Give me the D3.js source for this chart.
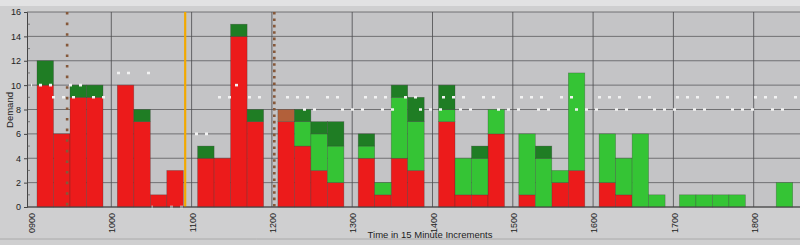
<!DOCTYPE html>
<html lang="en">
<head>
    <meta charset="UTF-8">
    <title>Demand in 15 Minute Increments</title>
    <script src="https://d3js.org/d3.v7.min.js"></script>
    <style>
        body { margin: 0; background: #cfcfd0; }
        svg { display: block; }
        .axis text { font-family: "Liberation Sans", Arial, sans-serif; font-size: 9px; fill: #222; }
        .title { font-family: "Liberation Sans", Arial, sans-serif; font-size: 9.5px; fill: #222; }
    </style>
</head>
<body>
<svg></svg>
<script>
    // hours shown on the axis
    var hours = [9, 10, 11, 12, 13, 14, 15, 16, 17, 18];
    var hourLabels = ["0900", "1000", "1100", "1200", "1300", "1400", "1500", "1600", "1700", "1800"];
    var yTicks = [0, 2, 4, 6, 8, 10, 12, 14, 16];

    // one value per 15 minute slot, 4 per hour, 0900 to 1845
    var redVals = [
        10, 6, 9, 9,
        10, 7, 1, 3,
        4, 4, 14, 7,
        7, 5, 3, 2,
        4, 1, 4, 3,
        7, 1, 1, 6,
        1, 0, 2, 3,
        2, 1, 0, 0,
        0, 0, 0, 0,
        0, 0, 0, 0
    ];
    var brownVals = [
        0, 0, 0, 0,
        0, 0, 0, 0,
        0, 0, 0, 0,
        1, 0, 0, 0,
        0, 0, 0, 0,
        0, 0, 0, 0,
        0, 0, 0, 0,
        0, 0, 0, 0,
        0, 0, 0, 0,
        0, 0, 0, 0
    ];
    var lightGreenVals = [
        0, 0, 0, 0,
        0, 0, 0, 0,
        0, 0, 0, 0,
        0, 2, 3, 3,
        1, 1, 5, 4,
        1, 3, 3, 2,
        5, 4, 1, 8,
        4, 3, 6, 1,
        1, 1, 1, 1,
        0, 2, 0, 0
    ];
    var darkGreenVals = [
        2, 0, 1, 1,
        0, 1, 0, 0,
        1, 0, 1, 1,
        0, 1, 1, 2,
        1, 0, 1, 2,
        2, 0, 1, 0,
        0, 1, 0, 0,
        0, 0, 0, 0,
        0, 0, 0, 0,
        0, 0, 0, 0
    ];

    // dotted target levels per 15 minute slot (null = not drawn)
    var targetA = [
        10, 10, 10, null,
        11, 11, null, null,
        6, null, 10, null,
        null, 8, 8, 8,
        8, 8, 8, 8,
        8, 8, 8, 8,
        8, 8, 8, 8,
        8, 8, 8, 8,
        8, 8, 8, 8,
        8, 8, 8, 8
    ];
    var targetB = [
        null, 9, 9, 9,
        null, null, 0, 0,
        null, 9, 9, 9,
        9, 9, 9, 9,
        9, 9, 9, 9,
        9, 9, 9, 9,
        9, 9, 9, 9,
        9, 9, 9, 9,
        9, 9, 9, 9,
        9, 9, 9, 9
    ];

    // vertical markers (hour of day)
    var markerTimes = [9.45, 10.92, 12.03];

    var w = 800, h = 245;
    var plot = { left: 27, top: 12, right: 800, bottom: 207 };

    var svg = d3.select("svg").attr("width", w).attr("height", h);

    var x = d3.scaleLinear().domain([9, 19.2]).range([31, 31 + 10.2 * 80.3]);
    var y = d3.scaleLinear().domain([0, 16]).range([plot.bottom, plot.top]);
    var slot = d3.scaleBand().domain([0, 1, 2, 3]).range([6, 72]).padding(0);

    // backgrounds
    svg.append("rect").attr("x", 0).attr("y", 0).attr("width", w).attr("height", 6).attr("fill", "#e2e2e3");
    svg.append("rect")
        .attr("x", plot.left).attr("y", plot.top)
        .attr("width", plot.right - plot.left).attr("height", plot.bottom - plot.top)
        .attr("fill", "#c4c4c6");
    svg.append("line").attr("x1", 0).attr("x2", w).attr("y1", 239).attr("y2", 239)
        .attr("stroke", "#aaa").attr("stroke-width", 1);

    svg.append("defs").append("clipPath").attr("id", "clip")
        .append("rect")
        .attr("x", plot.left).attr("y", plot.top - 2)
        .attr("width", plot.right - plot.left).attr("height", plot.bottom - plot.top + 4);

    // grid
    var grid = svg.append("g");
    grid.selectAll(".hg").data(yTicks).enter().append("line")
        .attr("x1", plot.left).attr("x2", plot.right)
        .attr("y1", d => y(d)).attr("y2", d => y(d))
        .attr("stroke", "#5c5c5e").attr("stroke-width", 0.8);
    grid.selectAll(".vg").data(hours.slice(1)).enter().append("line")
        .attr("x1", d => x(d)).attr("x2", d => x(d))
        .attr("y1", plot.top).attr("y2", plot.bottom)
        .attr("stroke", "#4a4a4c").attr("stroke-width", 0.8);

    // stacked bars
    var layers = [
        { vals: redVals, color: "#ec1b1b" },
        { vals: brownVals, color: "#b2603a" },
        { vals: lightGreenVals, color: "#35c435" },
        { vals: darkGreenVals, color: "#1f7d24" }
    ];
    var slots = redVals.map((d, i) => i);
    var barG = svg.append("g").attr("clip-path", "url(#clip)");
    var base = slots.map(() => 0);
    layers.forEach(layer => {
        slots.forEach(i => {
            var v = layer.vals[i];
            if (!v) return;
            var hr = hours[Math.floor(i / 4)];
            var x0 = x(hr) + slot(i % 4);
            barG.append("rect")
                .attr("x", x0)
                .attr("y", y(base[i] + v))
                .attr("width", slot.bandwidth())
                .attr("height", y(base[i]) - y(base[i] + v))
                .attr("fill", layer.color)
                .attr("stroke", "#3a3a3a")
                .attr("stroke-opacity", 0.45)
                .attr("stroke-width", 0.6);
            base[i] += v;
        });
    });

    // dotted target lines, one line per run of equal values
    var dashPeriod = 78;
    function drawTarget(vals, anchor) {
        var runs = [];
        vals.forEach((v, i) => {
            var last = runs[runs.length - 1];
            if (v === null) return;
            if (last && last.v === v && last.end === i) last.end = i + 1;
            else runs.push({ v: v, start: i, end: i + 1 });
        });
        runs.forEach(r => {
            var x0 = x(9 + r.start / 4), x1 = x(9 + r.end / 4);
            barG.append("line")
                .attr("x1", x0).attr("x2", x1)
                .attr("y1", y(r.v)).attr("y2", y(r.v))
                .attr("stroke", "#f2f2f2")
                .attr("stroke-width", 2.6)
                .attr("stroke-dasharray", "3,7,3,7,3,17,3,7,3,25")
                .attr("stroke-dashoffset", (((x0 - anchor) % dashPeriod) + dashPeriod) % dashPeriod);
        });
    }
    drawTarget(targetA, 575);
    drawTarget(targetB, 598);

    // vertical markers
    var markerStyles = [
        { color: "#85583a", width: 2.6, dash: "2.6,8" },
        { color: "#f2a900", width: 2.2, dash: null },
        { color: "#85583a", width: 2.6, dash: "2.6,3.8" }
    ];
    markerTimes.forEach((t, i) => {
        var st = markerStyles[i];
        svg.append("line")
            .attr("x1", x(t)).attr("x2", x(t))
            .attr("y1", plot.top).attr("y2", plot.bottom)
            .attr("stroke", st.color)
            .attr("stroke-width", st.width)
            .attr("stroke-dasharray", st.dash);
    });

    // axes
    var yAxis = d3.axisLeft(y).tickValues(yTicks).tickSize(3).tickPadding(3);
    var yg = svg.append("g").attr("class", "axis")
        .attr("transform", "translate(" + plot.left + ",0)")
        .call(yAxis);
    yg.select(".domain").attr("stroke", "#444");
    yg.selectAll(".tick line").attr("stroke", "#444");
    // minor ticks on odd values
    yg.selectAll(".minor").data(d3.range(1, 16, 2)).enter().append("line")
        .attr("x1", 0).attr("x2", 3)
        .attr("y1", d => y(d)).attr("y2", d => y(d))
        .attr("stroke", "#555").attr("stroke-width", 0.7);

    svg.append("line")
        .attr("x1", plot.left).attr("x2", plot.right)
        .attr("y1", plot.bottom).attr("y2", plot.bottom)
        .attr("stroke", "#444");

    var xg = svg.append("g").attr("class", "axis");
    xg.selectAll("text").data(hours).enter().append("text")
        .attr("transform", (d, i) => "translate(" + (x(d) + 1) + ",213) rotate(-90)")
        .attr("text-anchor", "end")
        .attr("dy", "0.35em")
        .text((d, i) => hourLabels[i]);

    svg.append("text").attr("class", "title")
        .attr("transform", "translate(10,110) rotate(-90)")
        .attr("text-anchor", "middle")
        .attr("dy", "0.35em")
        .text("Demand");

    svg.append("text").attr("class", "title")
        .attr("x", 430).attr("y", 238)
        .attr("text-anchor", "middle")
        .text("Time in 15 Minute Increments");
</script>
</body>
</html>
